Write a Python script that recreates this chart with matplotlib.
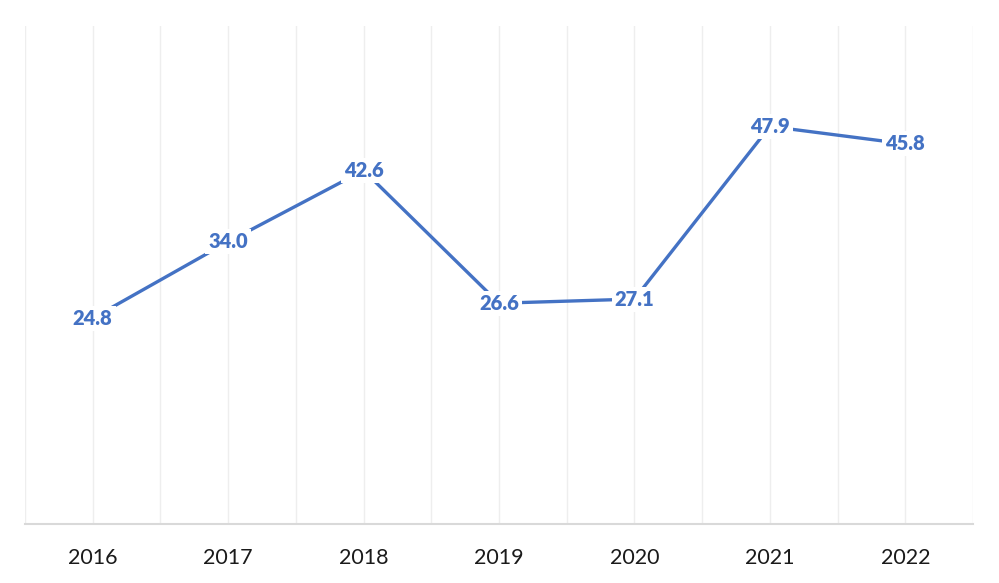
import matplotlib
matplotlib.use("Agg")
import matplotlib.pyplot as plt

years = ["2016", "2017", "2018", "2019", "2020", "2021", "2022"]
values = [24.8, 34.0, 42.6, 26.6, 27.1, 47.9, 45.8]

plt.rcParams['font.family'] = ['Lato', 'DejaVu Sans']

fig = plt.figure(figsize=(9.99, 5.83), dpi=100)
fig.patch.set_facecolor('white')
ax = fig.add_axes([25/999, 59/583, 948/999, 498/583])

n = len(years)
x = list(range(n))
ax.set_xlim(-0.5, n - 0.5)
ax.set_ylim(0, 60)

# gridlines at category centers and boundaries
for i in range(n):
    ax.axvline(i, color='#eeeeee', lw=1, zorder=0)
for i in range(n + 1):
    ax.axvline(i - 0.5, color='#eeeeee', lw=1, zorder=0)

ax.plot(x, values, color='#4472C4', lw=2.4, solid_capstyle='butt', zorder=2)

for xi, v in zip(x, values):
    ax.text(xi, v, f"{v:.1f}", ha='center', va='center', fontsize=14.5,
            fontweight='heavy', color='#4472C4', zorder=3,
            bbox=dict(boxstyle='square,pad=0.15', fc='white', ec='none'))

for s in ['top', 'right', 'left']:
    ax.spines[s].set_visible(False)
ax.spines['bottom'].set_color('#d9d9d9')
ax.spines['bottom'].set_linewidth(1.5)
ax.set_yticks([])
ax.set_xticks(x)
ax.set_xticklabels(years, fontsize=15.5, color='#1a1a1a')
ax.tick_params(axis='x', length=0, pad=17)

fig.savefig('out.png', dpi=100, facecolor='white')
